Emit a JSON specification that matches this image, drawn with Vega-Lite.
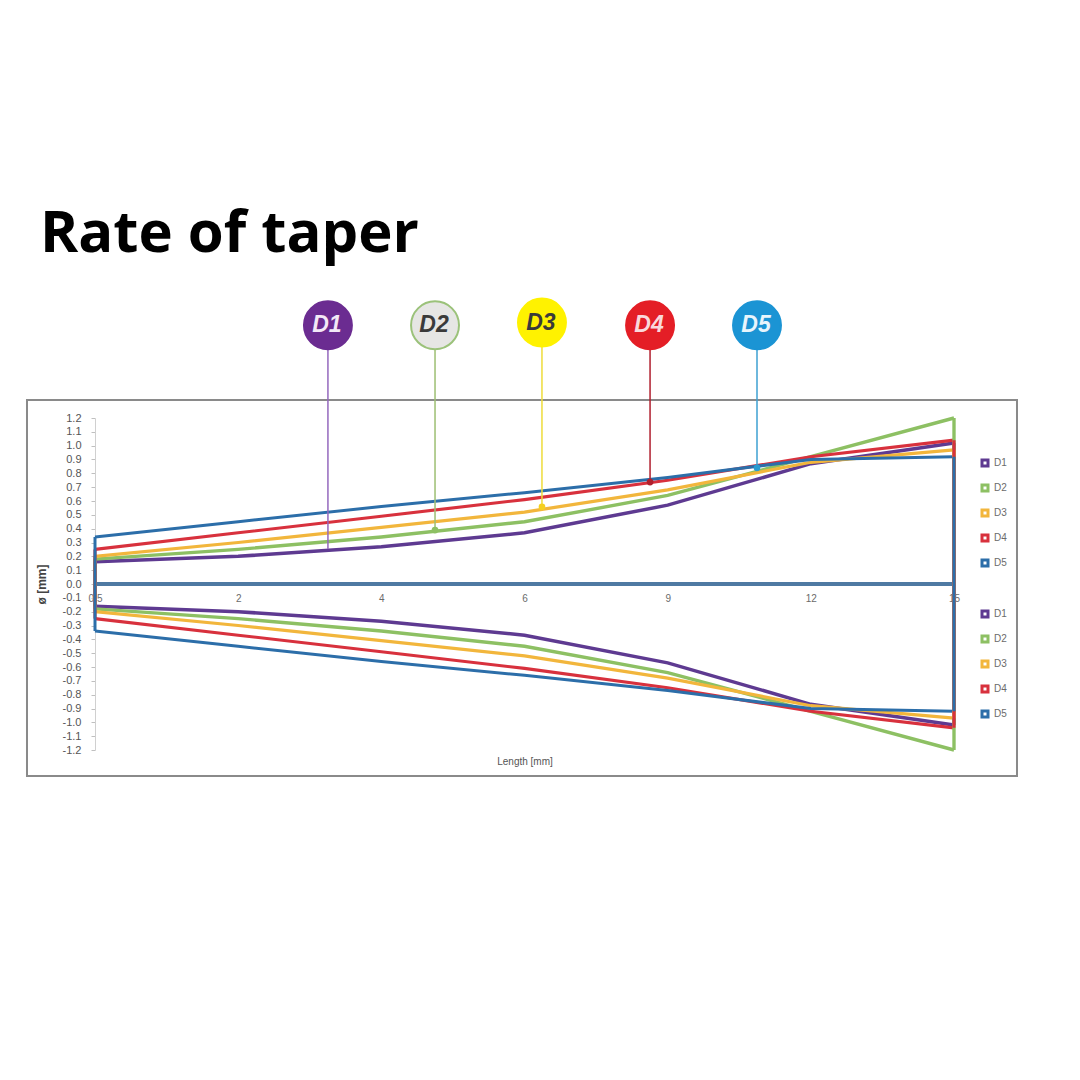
{
  "$schema": "https://vega.github.io/schema/vega-lite/v6.json",
  "width": 859,
  "height": 332,
  "autosize": {"type": "none"},
  "padding": {"left": 95, "top": 418, "right": 126, "bottom": 330},
  "background": "white",
  "title": {"text": "Rate of taper", "anchor": "start", "frame": "group", "dx": -55, "offset": 31, "font": "Open Sans", "fontSize": 58, "fontWeight": "bold", "color": "#000000"},
  "config": {"view": {"stroke": null}},
  "datasets": {
    "upper": [
      {"s": "D1", "x": "0.5", "i": 0, "v": 0.16}, {"s": "D1", "x": "2", "i": 1, "v": 0.2}, {"s": "D1", "x": "4", "i": 2, "v": 0.27}, {"s": "D1", "x": "6", "i": 3, "v": 0.37}, {"s": "D1", "x": "9", "i": 4, "v": 0.57}, {"s": "D1", "x": "12", "i": 5, "v": 0.87}, {"s": "D1", "x": "15", "i": 6, "v": 1.02},
      {"s": "D2", "x": "0.5", "i": 0, "v": 0.18}, {"s": "D2", "x": "2", "i": 1, "v": 0.25}, {"s": "D2", "x": "4", "i": 2, "v": 0.34}, {"s": "D2", "x": "6", "i": 3, "v": 0.45}, {"s": "D2", "x": "9", "i": 4, "v": 0.64}, {"s": "D2", "x": "12", "i": 5, "v": 0.92}, {"s": "D2", "x": "15", "i": 6, "v": 1.2},
      {"s": "D3", "x": "0.5", "i": 0, "v": 0.2}, {"s": "D3", "x": "2", "i": 1, "v": 0.3}, {"s": "D3", "x": "4", "i": 2, "v": 0.41}, {"s": "D3", "x": "6", "i": 3, "v": 0.52}, {"s": "D3", "x": "9", "i": 4, "v": 0.68}, {"s": "D3", "x": "12", "i": 5, "v": 0.88}, {"s": "D3", "x": "15", "i": 6, "v": 0.97},
      {"s": "D4", "x": "0.5", "i": 0, "v": 0.25}, {"s": "D4", "x": "2", "i": 1, "v": 0.37}, {"s": "D4", "x": "4", "i": 2, "v": 0.49}, {"s": "D4", "x": "6", "i": 3, "v": 0.61}, {"s": "D4", "x": "9", "i": 4, "v": 0.75}, {"s": "D4", "x": "12", "i": 5, "v": 0.92}, {"s": "D4", "x": "15", "i": 6, "v": 1.04},
      {"s": "D5", "x": "0.5", "i": 0, "v": 0.34}, {"s": "D5", "x": "2", "i": 1, "v": 0.45}, {"s": "D5", "x": "4", "i": 2, "v": 0.56}, {"s": "D5", "x": "6", "i": 3, "v": 0.66}, {"s": "D5", "x": "9", "i": 4, "v": 0.77}, {"s": "D5", "x": "12", "i": 5, "v": 0.9}, {"s": "D5", "x": "15", "i": 6, "v": 0.92}
    ],
    "lower": [
      {"s": "D1", "x": "0.5", "i": 0, "v": -0.16}, {"s": "D1", "x": "2", "i": 1, "v": -0.2}, {"s": "D1", "x": "4", "i": 2, "v": -0.27}, {"s": "D1", "x": "6", "i": 3, "v": -0.37}, {"s": "D1", "x": "9", "i": 4, "v": -0.57}, {"s": "D1", "x": "12", "i": 5, "v": -0.87}, {"s": "D1", "x": "15", "i": 6, "v": -1.02},
      {"s": "D2", "x": "0.5", "i": 0, "v": -0.18}, {"s": "D2", "x": "2", "i": 1, "v": -0.25}, {"s": "D2", "x": "4", "i": 2, "v": -0.34}, {"s": "D2", "x": "6", "i": 3, "v": -0.45}, {"s": "D2", "x": "9", "i": 4, "v": -0.64}, {"s": "D2", "x": "12", "i": 5, "v": -0.92}, {"s": "D2", "x": "15", "i": 6, "v": -1.2},
      {"s": "D3", "x": "0.5", "i": 0, "v": -0.2}, {"s": "D3", "x": "2", "i": 1, "v": -0.3}, {"s": "D3", "x": "4", "i": 2, "v": -0.41}, {"s": "D3", "x": "6", "i": 3, "v": -0.52}, {"s": "D3", "x": "9", "i": 4, "v": -0.68}, {"s": "D3", "x": "12", "i": 5, "v": -0.88}, {"s": "D3", "x": "15", "i": 6, "v": -0.97},
      {"s": "D4", "x": "0.5", "i": 0, "v": -0.25}, {"s": "D4", "x": "2", "i": 1, "v": -0.37}, {"s": "D4", "x": "4", "i": 2, "v": -0.49}, {"s": "D4", "x": "6", "i": 3, "v": -0.61}, {"s": "D4", "x": "9", "i": 4, "v": -0.75}, {"s": "D4", "x": "12", "i": 5, "v": -0.92}, {"s": "D4", "x": "15", "i": 6, "v": -1.04},
      {"s": "D5", "x": "0.5", "i": 0, "v": -0.34}, {"s": "D5", "x": "2", "i": 1, "v": -0.45}, {"s": "D5", "x": "4", "i": 2, "v": -0.56}, {"s": "D5", "x": "6", "i": 3, "v": -0.66}, {"s": "D5", "x": "9", "i": 4, "v": -0.77}, {"s": "D5", "x": "12", "i": 5, "v": -0.9}, {"s": "D5", "x": "15", "i": 6, "v": -0.92}
    ],
    "ends": [
      {"s": "D1", "i": 0, "v": 0.16, "v2": -0.16}, {"s": "D2", "i": 0, "v": 0.18, "v2": -0.18}, {"s": "D3", "i": 0, "v": 0.2, "v2": -0.2}, {"s": "D4", "i": 0, "v": 0.25, "v2": -0.25}, {"s": "D5", "i": 0, "v": 0.34, "v2": -0.34},
      {"s": "D1", "i": 6, "v": 1.02, "v2": -1.02}, {"s": "D2", "i": 6, "v": 1.2, "v2": -1.2}, {"s": "D3", "i": 6, "v": 0.97, "v2": -0.97}, {"s": "D4", "i": 6, "v": 1.04, "v2": -1.04}, {"s": "D5", "i": 6, "v": 0.92, "v2": -0.92}
    ],
    "zero": [{"i": 0, "i2": 6, "v": 0}],
    "frame": [{"i": -0.475, "i2": 6.44, "v": 1.33, "v2": -1.388}],
    "callouts": [
      {"s": "D1", "i": 1.627, "v": 1.87, "e": 0.253},
      {"s": "D2", "i": 2.375, "v": 1.87, "e": 0.39},
      {"s": "D3", "i": 3.122, "v": 1.89, "e": 0.557},
      {"s": "D4", "i": 3.877, "v": 1.87, "e": 0.737},
      {"s": "D5", "i": 4.624, "v": 1.87, "e": 0.84}
    ],
    "dots": [
      {"s": "D2", "i": 2.375, "v": 0.39},
      {"s": "D3", "i": 3.122, "v": 0.557},
      {"s": "D4", "i": 3.877, "v": 0.737},
      {"s": "D5", "i": 4.624, "v": 0.84}
    ]
  },
  "encoding": {
    "x": {
      "field": "i", "type": "quantitative",
      "scale": {"domain": [0, 6], "nice": false, "zero": false},
      "axis": {
        "values": [0, 1, 2, 3, 4, 5, 6],
        "labelExpr": "['0.5','2','4','6','9','12','15'][datum.value]",
        "grid": false, "domain": false, "ticks": false, "offset": -166,
        "labelPadding": 9, "labelFontSize": 10, "labelColor": "#6b6b6b", "labelFont": "Liberation Sans", "labelFlush": false,
        "title": "Length [mm]", "titleFont": "Liberation Sans", "titleFontSize": 10, "titleFontWeight": "normal", "titleColor": "#555555", "titleY": 172
      }
    },
    "y": {
      "field": "v", "type": "quantitative",
      "scale": {"domain": [-1.2, 1.2], "nice": false, "zero": false},
      "axis": {
        "values": [-1.2, -1.1, -1.0, -0.9, -0.8, -0.7, -0.6, -0.5, -0.4, -0.3, -0.2, -0.1, 0, 0.1, 0.2, 0.3, 0.4, 0.5, 0.6, 0.7, 0.8, 0.9, 1.0, 1.1, 1.2],
        "labelExpr": "datum.value < 0 ? '-' + format(-datum.value, '.1f') : format(datum.value, '.1f')",
        "grid": false, "domainColor": "#d0d0d0", "tickColor": "#c0c0c0", "tickSize": 4,
        "labelPadding": 10, "labelFontSize": 11, "labelColor": "#555555", "labelFont": "Liberation Sans",
        "title": "ø [mm]", "titleFont": "Liberation Sans", "titleFontSize": 12, "titleFontWeight": "bold", "titleColor": "#444444", "titleX": -47
      }
    }
  },
  "layer": [
    {
      "data": {"name": "frame"},
      "mark": {"type": "rect", "fill": "white", "fillOpacity": 0, "stroke": "#8a8a8a", "strokeWidth": 2},
      "encoding": {"x2": {"field": "i2"}, "y2": {"field": "v2"}}
    },
    {
      "data": {"name": "zero"},
      "mark": {"type": "rule", "color": "#4f7aa3", "strokeWidth": 4},
      "encoding": {"x2": {"field": "i2"}}
    },
    {
      "data": {"name": "upper"},
      "mark": {"type": "line"},
      "encoding": {
        "color": {
          "field": "s", "type": "nominal",
          "scale": {"domain": ["D1", "D2", "D3", "D4", "D5"], "range": ["#5e3a91", "#8dc063", "#f2b63c", "#d8313d", "#2c6ea9"]},
          "legend": {"orient": "none", "legendX": 885, "legendY": 40, "title": null, "symbolType": "square", "symbolSize": 36, "symbolStrokeWidth": 3, "labelFontSize": 10, "labelColor": "#6b6b6b", "labelFont": "Liberation Sans", "rowPadding": 7, "labelOffset": 4}
        },
        "strokeWidth": {"field": "s", "type": "ordinal", "scale": {"domain": ["D1", "D2", "D3", "D4", "D5"], "range": [3.5, 3, 4, 4.5, 4.5]}, "legend": null}
      }
    },
    {
      "data": {"name": "lower"},
      "mark": {"type": "line"},
      "encoding": {
        "stroke": {
          "field": "s", "type": "nominal",
          "scale": {"domain": ["D1", "D2", "D3", "D4", "D5"], "range": ["#5e3a91", "#8dc063", "#f2b63c", "#d8313d", "#2c6ea9"]},
          "legend": {"orient": "none", "legendX": 885, "legendY": 191, "title": null, "symbolType": "square", "symbolSize": 36, "symbolStrokeWidth": 3, "labelFontSize": 10, "labelColor": "#6b6b6b", "labelFont": "Liberation Sans", "rowPadding": 7, "labelOffset": 4}
        },
        "strokeWidth": {"field": "s", "type": "ordinal", "scale": {"domain": ["D1", "D2", "D3", "D4", "D5"], "range": [3.5, 3, 4, 4.5, 4.5]}, "legend": null}
      }
    },
    {
      "data": {"name": "ends"},
      "mark": {"type": "rule"},
      "encoding": {
        "y2": {"field": "v2"},
        "color": {"field": "s", "type": "nominal", "scale": {"domain": ["D1", "D2", "D3", "D4", "D5"], "range": ["#5e3a91", "#8dc063", "#f2b63c", "#d8313d", "#2c6ea9"]}, "legend": null},
        "strokeWidth": {"field": "s", "type": "ordinal", "scale": {"domain": ["D1", "D2", "D3", "D4", "D5"], "range": [3.5, 3, 4, 4.5, 4.5]}, "legend": null}
      }
    },
    {
      "data": {"name": "callouts"},
      "mark": {"type": "rule", "strokeWidth": 1.5},
      "encoding": {
        "y2": {"field": "e"},
        "color": {"field": "s", "type": "nominal", "scale": {"domain": ["D1", "D2", "D3", "D4", "D5"], "range": ["#9468bd", "#9dbf72", "#eedc3a", "#b01f2e", "#3ea0d2"]}, "legend": null}
      }
    },
    {
      "data": {"name": "dots"},
      "mark": {"type": "point", "filled": true, "size": 45, "opacity": 1, "shape": "circle"},
      "encoding": {
        "color": {"field": "s", "type": "nominal", "scale": {"domain": ["D2", "D3", "D4", "D5"], "range": ["#8dc063", "#f5d020", "#b0202c", "#2a9bd0"]}, "legend": null}
      }
    },
    {
      "data": {"name": "callouts"},
      "mark": {"type": "point", "shape": "circle", "size": 2300, "strokeWidth": 2, "opacity": 1},
      "encoding": {
        "fill": {"field": "s", "type": "nominal", "scale": {"domain": ["D1", "D2", "D3", "D4", "D5"], "range": ["#6b2c91", "#e6e6e4", "#fff200", "#e41e26", "#1b94d4"]}, "legend": null},
        "stroke": {"field": "s", "type": "nominal", "scale": {"domain": ["D1", "D2", "D3", "D4", "D5"], "range": ["#6b2c91", "#9bc27a", "#fff200", "#e41e26", "#1b94d4"]}, "legend": null}
      }
    },
    {
      "data": {"name": "callouts"},
      "mark": {"type": "text", "font": "Liberation Sans", "fontSize": 23, "fontStyle": "italic", "fontWeight": "bold", "align": "center", "baseline": "middle", "dx": -1},
      "encoding": {
        "text": {"field": "s"},
        "color": {"field": "s", "type": "nominal", "scale": {"domain": ["D1", "D2", "D3", "D4", "D5"], "range": ["#f3e9f7", "#3a3a3a", "#3a3a3a", "#f9d9dc", "#e8f5fc"]}, "legend": null}
      }
    }
  ],
  "resolve": {"scale": {"color": "independent", "fill": "independent", "stroke": "independent"}}
}
